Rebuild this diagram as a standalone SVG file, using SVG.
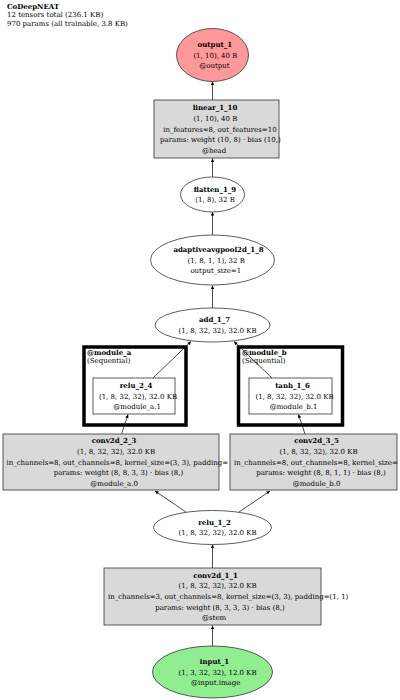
<svg xmlns="http://www.w3.org/2000/svg" width="400" height="700" viewBox="0 0 400 700">
<style>
text{font-family:"DejaVu Serif","Liberation Serif",serif;font-size:7px;fill:#000}
.b{font-weight:bold}
.m{text-anchor:middle}
.box{fill:#d9d9d9;stroke:#333;stroke-width:0.8}
.inner{fill:#fff;stroke:#333;stroke-width:0.8}
.ell{fill:#fff;stroke:#333;stroke-width:0.8}
.cl{fill:none;stroke:#000;stroke-width:3.5}
.e{stroke:#000;stroke-width:0.7;fill:none;marker-end:url(#ah)}
</style>
<defs>
<marker id="ah" viewBox="0 0 10 10" refX="10" refY="5" markerUnits="userSpaceOnUse" markerWidth="4.5" markerHeight="3.5" orient="auto">
<path d="M0,0 L10,5 L0,10 z" fill="#000"/>
</marker>
</defs>
<rect width="400" height="700" fill="#fff"/>
<g id="title">
<text x="7" y="8.5" class="b">CoDeepNEAT</text>
<text x="7" y="17">12 tensors total (236.1 KB)</text>
<text x="7" y="25.5">970 params (all trainable, 3.8 KB)</text>
</g>
<g id="cluster_module_a">
<rect class="cl" x="84" y="347" width="102" height="78"/>
<text x="87" y="355" class="b">@module_a</text>
<text x="87" y="363">(Sequential)</text>
</g>
<g id="cluster_module_b">
<rect class="cl" x="238.5" y="347" width="104" height="78"/>
<text x="242" y="355" class="b">@module_b</text>
<text x="242" y="363">(Sequential)</text>
</g>
<g id="edges">
<line class="e" x1="212.5" y1="646" x2="212.5" y2="625.5"/>
<line class="e" x1="212.5" y1="568" x2="212.5" y2="544.5"/>
<line class="e" x1="186" y1="512" x2="155" y2="491"/>
<line class="e" x1="239" y1="512" x2="270" y2="491"/>
<line class="e" x1="121.5" y1="434" x2="128" y2="414.5"/>
<line class="e" x1="305" y1="434" x2="298.5" y2="414.5"/>
<line class="e" x1="153" y1="378" x2="191" y2="341.5"/>
<line class="e" x1="272" y1="378" x2="234" y2="341.5"/>
<line class="e" x1="212.5" y1="308" x2="212.5" y2="285.5"/>
<line class="e" x1="212.5" y1="235" x2="212.5" y2="212"/>
<line class="e" x1="212.5" y1="177" x2="212.5" y2="158.5"/>
<line class="e" x1="212.5" y1="100" x2="212.5" y2="81.5"/>
</g>
<g id="output_1">
<ellipse cx="212.5" cy="55" rx="36" ry="26.5" fill="#ff9999" stroke="#333" stroke-width="0.8"/>
<text x="214.9" y="46.8" class="b m">output_1</text>
<text x="215.4" y="57.5" class="m">(1, 10), 40 B</text>
<text x="214.5" y="68.2" class="m">@output</text>
</g>
<g id="linear_1_10">
<rect class="box" x="154" y="100" width="125" height="58"/>
<text x="215" y="110.1" class="b m">linear_1_10</text>
<text x="215.4" y="120.8" class="m">(1, 10), 40 B</text>
<text x="163.2" y="131.5">in_features=8, out_features=10</text>
<text x="160" y="142.2">params: weight (10, 8) · bias (10,)</text>
<text x="214.1" y="152.9" class="m">@head</text>
</g>
<g id="flatten_1_9">
<ellipse class="ell" cx="212.5" cy="194.5" rx="32" ry="17.5"/>
<text x="215" y="191.6" class="b m">flatten_1_9</text>
<text x="215.1" y="202.3" class="m">(1, 8), 32 B</text>
</g>
<g id="adaptiveavgpool2d_1_8">
<ellipse class="ell" cx="212.5" cy="260" rx="62" ry="25"/>
<text x="218.5" y="251.8" class="b m">adaptiveavgpool2d_1_8</text>
<text x="216.2" y="262.5" class="m">(1, 8, 1, 1), 32 B</text>
<text x="215.8" y="273.2" class="m">output_size=1</text>
</g>
<g id="add_1_7">
<ellipse class="ell" cx="212.5" cy="325" rx="57.5" ry="17"/>
<text x="214.5" y="322.1" class="b m">add_1_7</text>
<text x="217.6" y="332.8" class="m">(1, 8, 32, 32), 32.0 KB</text>
</g>
<g id="relu_2_4">
<rect class="inner" x="93" y="378" width="82" height="36"/>
<text x="136" y="387.8" class="b m">relu_2_4</text>
<text x="138" y="398.5" class="m">(1, 8, 32, 32), 32.0 KB</text>
<text x="137.1" y="409.2" class="m">@module_a.1</text>
</g>
<g id="tanh_1_6">
<rect class="inner" x="249" y="378" width="83" height="36"/>
<text x="292.5" y="387.8" class="b m">tanh_1_6</text>
<text x="294.5" y="398.5" class="m">(1, 8, 32, 32), 32.0 KB</text>
<text x="293.6" y="409.2" class="m">@module_b.1</text>
</g>
<g id="conv2d_2_3">
<rect class="box" x="3" y="434" width="216" height="56"/>
<text x="114" y="443.1" class="b m">conv2d_2_3</text>
<text x="116.1" y="453.8" class="m">(1, 8, 32, 32), 32.0 KB</text>
<text x="6.4" y="464.5">in_channels=8, out_channels=8, kernel_size=(3, 3), padding=</text>
<text x="53.7" y="475.2">params: weight (8, 8, 3, 3) · bias (8,)</text>
<text x="114.1" y="485.9" class="m">@module_a.0</text>
</g>
<g id="conv2d_3_5">
<rect class="box" x="230" y="434" width="167" height="56"/>
<text x="316.5" y="443.1" class="b m">conv2d_3_5</text>
<text x="318.6" y="453.8" class="m">(1, 8, 32, 32), 32.0 KB</text>
<text x="234.1" y="464.5">in_channels=8, out_channels=8, kernel_size=</text>
<text x="256.2" y="475.2">params: weight (8, 8, 1, 1) · bias (8,)</text>
<text x="316.6" y="485.9" class="m">@module_b.0</text>
</g>
<g id="relu_1_2">
<ellipse class="ell" cx="212.5" cy="527.5" rx="59" ry="17"/>
<text x="214.5" y="524.6" class="b m">relu_1_2</text>
<text x="217.6" y="535.3" class="m">(1, 8, 32, 32), 32.0 KB</text>
</g>
<g id="conv2d_1_1">
<rect class="box" x="104" y="568" width="217" height="57"/>
<text x="215.5" y="577.6" class="b m">conv2d_1_1</text>
<text x="217.6" y="588.3" class="m">(1, 8, 32, 32), 32.0 KB</text>
<text x="107.9" y="599">in_channels=3, out_channels=8, kernel_size=(3, 3), padding=(1, 1)</text>
<text x="155.2" y="609.7">params: weight (8, 3, 3, 3) · bias (8,)</text>
<text x="214.1" y="620.4" class="m">@stem</text>
</g>
<g id="input_1">
<ellipse cx="212.5" cy="672" rx="60" ry="26" fill="#90ee90" stroke="#333" stroke-width="0.8"/>
<text x="214.5" y="663.8" class="b m">input_1</text>
<text x="217.6" y="674.5" class="m">(1, 3, 32, 32), 12.0 KB</text>
<text x="215.7" y="685.2" class="m">@input.image</text>
</g>
</svg>
